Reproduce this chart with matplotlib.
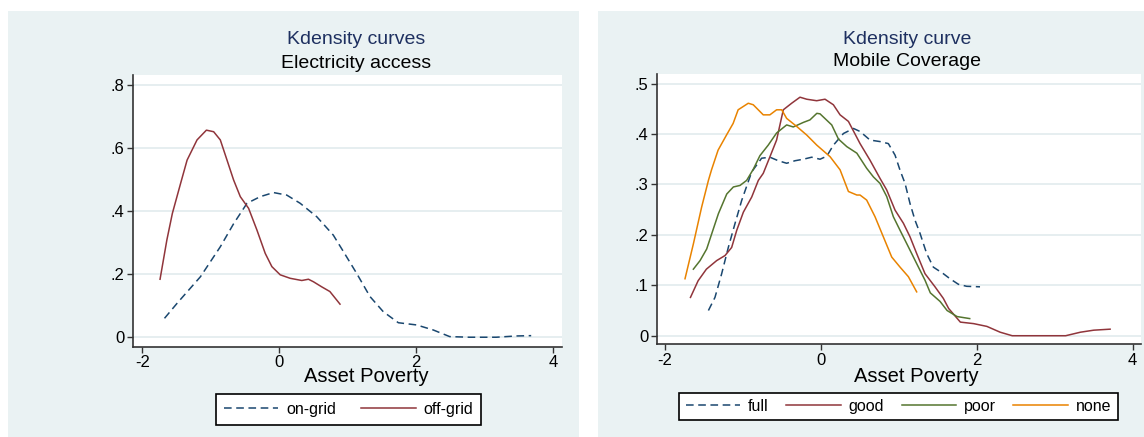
import matplotlib.pyplot as plt
from matplotlib.patches import Rectangle

plt.rcParams['font.family'] = ['Liberation Sans', 'DejaVu Sans']

# Electricity access panel
ongrid_x = [-1.675, -1.49, -1.15, -0.86, -0.666, -0.47, -0.277, -0.083, 0.11, 0.306,
            0.55, 0.79, 0.94, 1.13, 1.326, 1.52, 1.74, 2.006, 2.25, 2.49, 2.78, 3.17, 3.46, 3.68]
ongrid_y = [0.060, 0.108, 0.192, 0.287, 0.36, 0.425, 0.446, 0.459, 0.451, 0.425,
            0.382, 0.324, 0.271, 0.203, 0.129, 0.081, 0.046, 0.039, 0.023, 0.002, 0.0, 0.0, 0.004, 0.005]
offgrid_x = [-1.74, -1.64, -1.56, -1.44, -1.345, -1.20, -1.063, -0.957, -0.86, -0.762, -0.666, -0.568,
             -0.447, -0.325, -0.204, -0.107, 0.015, 0.16, 0.33, 0.427, 0.5, 0.62, 0.74, 0.888]
offgrid_y = [0.184, 0.309, 0.393, 0.488, 0.562, 0.626, 0.657, 0.652, 0.626, 0.562, 0.499, 0.446,
             0.409, 0.340, 0.266, 0.224, 0.198, 0.187, 0.180, 0.184, 0.176, 0.16, 0.145, 0.105]

# Mobile coverage panel
full_x = [-1.44, -1.356, -1.27, -1.185, -1.1, -1.014, -0.885, -0.758, -0.651, -0.544, -0.437, -0.33,
          -0.223, -0.116, -0.009, 0.077, 0.163, 0.291, 0.42, 0.504, 0.632, 0.76, 0.867, 0.953,
          1.017, 1.081, 1.145, 1.209, 1.273, 1.358, 1.444, 1.572, 1.657, 1.765, 1.871, 2.042]
full_y = [0.050, 0.076, 0.123, 0.175, 0.222, 0.268, 0.325, 0.352, 0.354, 0.347, 0.342, 0.347,
          0.350, 0.354, 0.350, 0.356, 0.378, 0.401, 0.411, 0.405, 0.388, 0.385, 0.381, 0.358,
          0.328, 0.302, 0.262, 0.229, 0.203, 0.163, 0.136, 0.123, 0.113, 0.102, 0.098, 0.097]
good_x = [-1.67, -1.572, -1.466, -1.334, -1.227, -1.142, -1.077, -0.992, -0.885, -0.8, -0.737,
          -0.651, -0.566, -0.48, -0.373, -0.266, -0.18, -0.052, 0.055, 0.162, 0.248, 0.355,
          0.504, 0.632, 0.76, 0.846, 0.953, 1.06, 1.145, 1.23, 1.337, 1.465, 1.572, 1.64,
          1.79, 1.96, 2.13, 2.30, 2.455, 3.14, 3.33, 3.50, 3.71]
good_y = [0.076, 0.109, 0.132, 0.149, 0.159, 0.175, 0.209, 0.245, 0.275, 0.308, 0.322,
          0.355, 0.388, 0.448, 0.461, 0.473, 0.469, 0.466, 0.469, 0.458, 0.438, 0.425,
          0.381, 0.348, 0.312, 0.289, 0.249, 0.223, 0.196, 0.163, 0.123, 0.097, 0.074, 0.054,
          0.027, 0.024, 0.0185, 0.007, 0.0, 0.0, 0.007, 0.011, 0.013]
poor_x = [-1.633, -1.547, -1.462, -1.398, -1.312, -1.205, -1.12, -1.035, -0.95, -0.865, -0.78,
          -0.673, -0.566, -0.437, -0.352, -0.223, -0.138, -0.05, -0.009, 0.141, 0.227, 0.334,
          0.463, 0.589, 0.675, 0.76, 0.846, 0.931, 1.017, 1.124, 1.23, 1.337, 1.405, 1.53,
          1.62, 1.748, 1.91]
poor_y = [0.132, 0.149, 0.172, 0.202, 0.242, 0.281, 0.295, 0.298, 0.308, 0.33, 0.357,
          0.378, 0.402, 0.418, 0.414, 0.423, 0.428, 0.441, 0.440, 0.418, 0.390, 0.375,
          0.362, 0.332, 0.315, 0.302, 0.276, 0.236, 0.209, 0.176, 0.143, 0.110, 0.085, 0.068,
          0.050, 0.038, 0.034]
none_x = [-1.74, -1.633, -1.527, -1.44, -1.40, -1.316, -1.208, -1.123, -1.059, -0.929, -0.865,
          -0.801, -0.737, -0.652, -0.566, -0.5, -0.437, -0.308, -0.18, -0.051, 0.12, 0.248,
          0.355, 0.463, 0.504, 0.589, 0.696, 0.803, 0.91, 1.017, 1.124, 1.23]
none_y = [0.113, 0.182, 0.255, 0.308, 0.329, 0.368, 0.398, 0.421, 0.448, 0.461, 0.458,
          0.448, 0.438, 0.438, 0.448, 0.448, 0.431, 0.415, 0.398, 0.378, 0.355, 0.329,
          0.286, 0.279, 0.279, 0.269, 0.236, 0.196, 0.156, 0.136, 0.117, 0.087]

x_ticks = [-2, 0, 2, 4]
x_ticklabels = ['-2', '0', '2', '4']
elec_yticks = [0, 0.2, 0.4, 0.6, 0.8]
elec_yticklabels = ['0', '.2', '.4', '.6', '.8']
mob_yticks = [0, 0.1, 0.2, 0.3, 0.4, 0.5]
mob_yticklabels = ['0', '.1', '.2', '.3', '.4', '.5']

navy = '#1a476f'
maroon = '#90353b'
green = '#55752f'
orange = '#e98300'
title_col = '#1e3060'
bg = '#eaf2f3'
W, H = 1144, 437

fig = plt.figure(figsize=(W / 100, H / 100), dpi=100)
fig.patch.set_facecolor('white')
fig.add_artist(Rectangle((8 / W, 0), 571 / W, 426 / H, transform=fig.transFigure,
                         facecolor=bg, edgecolor='none', zorder=0))
fig.add_artist(Rectangle((598 / W, 0), 546 / W, 426 / H, transform=fig.transFigure,
                         facecolor=bg, edgecolor='none', zorder=0))

ax1 = fig.add_axes([133 / W, (H - 347) / H, (562 - 133) / W, (347 - 75) / H])
ax2 = fig.add_axes([656.7 / W, (H - 344.3) / H, (1141 - 656.7) / W, (344.3 - 74) / H])

dash = (0, (5, 3))
lw = 1.1
h1, = ax1.plot(ongrid_x, ongrid_y, color=navy, lw=lw, ls=dash)
h2, = ax1.plot(offgrid_x, offgrid_y, color=maroon, lw=lw)
ax1.set_xlim(-2.135, 4.13)
ax1.set_ylim(-0.031, 0.832)
ax1.set_yticks(elec_yticks)
ax1.set_yticklabels(elec_yticklabels)

g1, = ax2.plot(full_x, full_y, color=navy, lw=lw, ls=dash)
g2, = ax2.plot(good_x, good_y, color=maroon, lw=lw)
g3, = ax2.plot(poor_x, poor_y, color=green, lw=lw)
g4, = ax2.plot(none_x, none_y, color=orange, lw=lw)
ax2.set_xlim(-2.103, 4.106)
ax2.set_ylim(-0.017, 0.519)
ax2.set_yticks(mob_yticks)
ax2.set_yticklabels(mob_yticklabels)

for ax in (ax1, ax2):
    ax.set_facecolor('white')
    ax.set_xticks(x_ticks)
    ax.set_xticklabels(x_ticklabels)
    ax.grid(axis='y', color='#e2ebed', lw=1.2)
    ax.set_axisbelow(True)
    for s in ('top', 'right'):
        ax.spines[s].set_visible(False)
    for s in ('left', 'bottom'):
        ax.spines[s].set_color('#333333')
        ax.spines[s].set_linewidth(1.2)
    ax.tick_params(direction='out', length=4, width=1, colors='#333333',
                   labelcolor='black', labelsize=12, pad=2)

# titles and axis labels
fig.text(356 / W, 1 - 40 / H, 'Kdensity curves', ha='center', va='center', fontsize=14, color=title_col)
fig.text(356 / W, 1 - 63 / H, 'Electricity access', ha='center', va='center', fontsize=14)
fig.text(907 / W, 1 - 40 / H, 'Kdensity curve', ha='center', va='center', fontsize=14, color=title_col)
fig.text(907 / W, 1 - 62 / H, 'Mobile Coverage', ha='center', va='center', fontsize=14)
fig.text(366 / W, 1 - 377 / H, 'Asset Poverty', ha='center', va='center', fontsize=14.5)
fig.text(916 / W, 1 - 377 / H, 'Asset Poverty', ha='center', va='center', fontsize=14.5)

leg_kw = dict(loc='center', bbox_transform=fig.transFigure, frameon=True, fancybox=False,
              edgecolor='black', framealpha=1, fontsize=11.5, handlelength=3.4,
              handletextpad=0.5, borderaxespad=0)
leg1 = ax1.legend([h1, h2], ['on-grid', 'off-grid'], ncol=2, columnspacing=1.6, borderpad=0.5,
                  bbox_to_anchor=(348.5 / W, 1 - 409.5 / H), **leg_kw)
leg2 = ax2.legend([g1, g2, g3, g4], ['full', 'good', 'poor', 'none'], ncol=4,
                  columnspacing=1.1, borderpad=0.4,
                  bbox_to_anchor=(898.5 / W, 1 - 406.5 / H), **leg_kw)
for leg in (leg1, leg2):
    leg.get_frame().set_linewidth(1.2)

fig.savefig('out.png', dpi=100)
